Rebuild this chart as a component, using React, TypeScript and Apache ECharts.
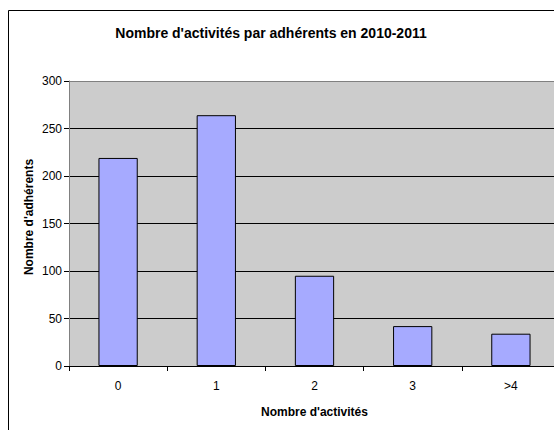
import React, { useEffect, useRef } from "react";
import * as echarts from "echarts";

const categories = ["0", "1", "2", "3", ">4"];
const values = [219, 264, 95, 42, 34];
const yTicks = { min: 0, max: 300, interval: 50 };
const chartTitle = "Nombre d'activités par adhérents en 2010-2011";
const xTitle = "Nombre d'activités";
const yTitle = "Nombre d'adhérents";

const FONT = "'Liberation Sans', Arial, sans-serif";

export default function App() {
  const ref = useRef<HTMLDivElement>(null);
  useEffect(() => {
    if (!ref.current) return;
    const chart = echarts.init(ref.current, undefined, { renderer: "svg" });
    chart.setOption({
      animation: false,
      backgroundColor: "#ffffff",
      textStyle: { fontFamily: FONT },
      graphic: [
        {
          type: "rect",
          shape: { x: 8.5, y: 10.5, width: 620, height: 520 },
          style: { fill: "none", stroke: "#000000", lineWidth: 1 },
          silent: true,
          z: 100,
        },
        {
          type: "text",
          x: 271,
          y: 33,
          style: {
            text: chartTitle,
            font: `bold 14px ${FONT}`,
            fill: "#000000",
            align: "center",
            verticalAlign: "middle",
          },
        },
        {
          type: "text",
          x: 28.5,
          y: 217,
          rotation: Math.PI / 2,
          style: {
            text: yTitle,
            font: `bold 12px ${FONT}`,
            fill: "#000000",
            align: "center",
            verticalAlign: "middle",
          },
        },
      ],
      grid: {
        left: 69,
        top: 81,
        width: 491,
        height: 285,
        show: true,
        backgroundColor: "#cccccc",
        borderWidth: 0,
      },
      xAxis: {
        type: "category",
        data: categories,
        boundaryGap: true,
        name: xTitle,
        nameLocation: "middle",
        nameGap: 40,
        nameTextStyle: { fontFamily: FONT, fontWeight: "bold", fontSize: 12, color: "#000" },
        axisLine: { show: true, lineStyle: { color: "#000000", width: 1 } },
        axisTick: { show: true, alignWithLabel: false, length: 5, lineStyle: { color: "#000000" } },
        axisLabel: { fontFamily: FONT, fontSize: 12, color: "#000000", margin: 14 },
        splitLine: { show: false },
      },
      yAxis: {
        type: "value",
        min: yTicks.min,
        max: yTicks.max,
        interval: yTicks.interval,
        axisLine: { show: true, lineStyle: { color: "#808080", width: 1 } },
        axisTick: { show: true, length: 5, lineStyle: { color: "#000000" } },
        axisLabel: { fontFamily: FONT, fontSize: 12, color: "#000000", margin: 7 },
        splitLine: {
          show: true,
          lineStyle: {
            color: ["#000000", "#000000", "#000000", "#000000", "#000000", "#000000", "#808080"],
            width: 1,
          },
        },
      },
      series: [
        {
          type: "bar",
          data: values,
          barWidth: "40%",
          itemStyle: { color: "#a6aaff", borderColor: "#000000", borderWidth: 1 },
        },
      ],
    });
    return () => chart.dispose();
  }, []);
  return (
    <div
      style={{
        position: "fixed",
        left: 0,
        top: 0,
        width: 554,
        height: 430,
        overflow: "hidden",
        background: "#fff",
      }}
    >
      <div ref={ref} style={{ position: "absolute", left: 0, top: 0, width: 600, height: 460 }} />
    </div>
  );
}
